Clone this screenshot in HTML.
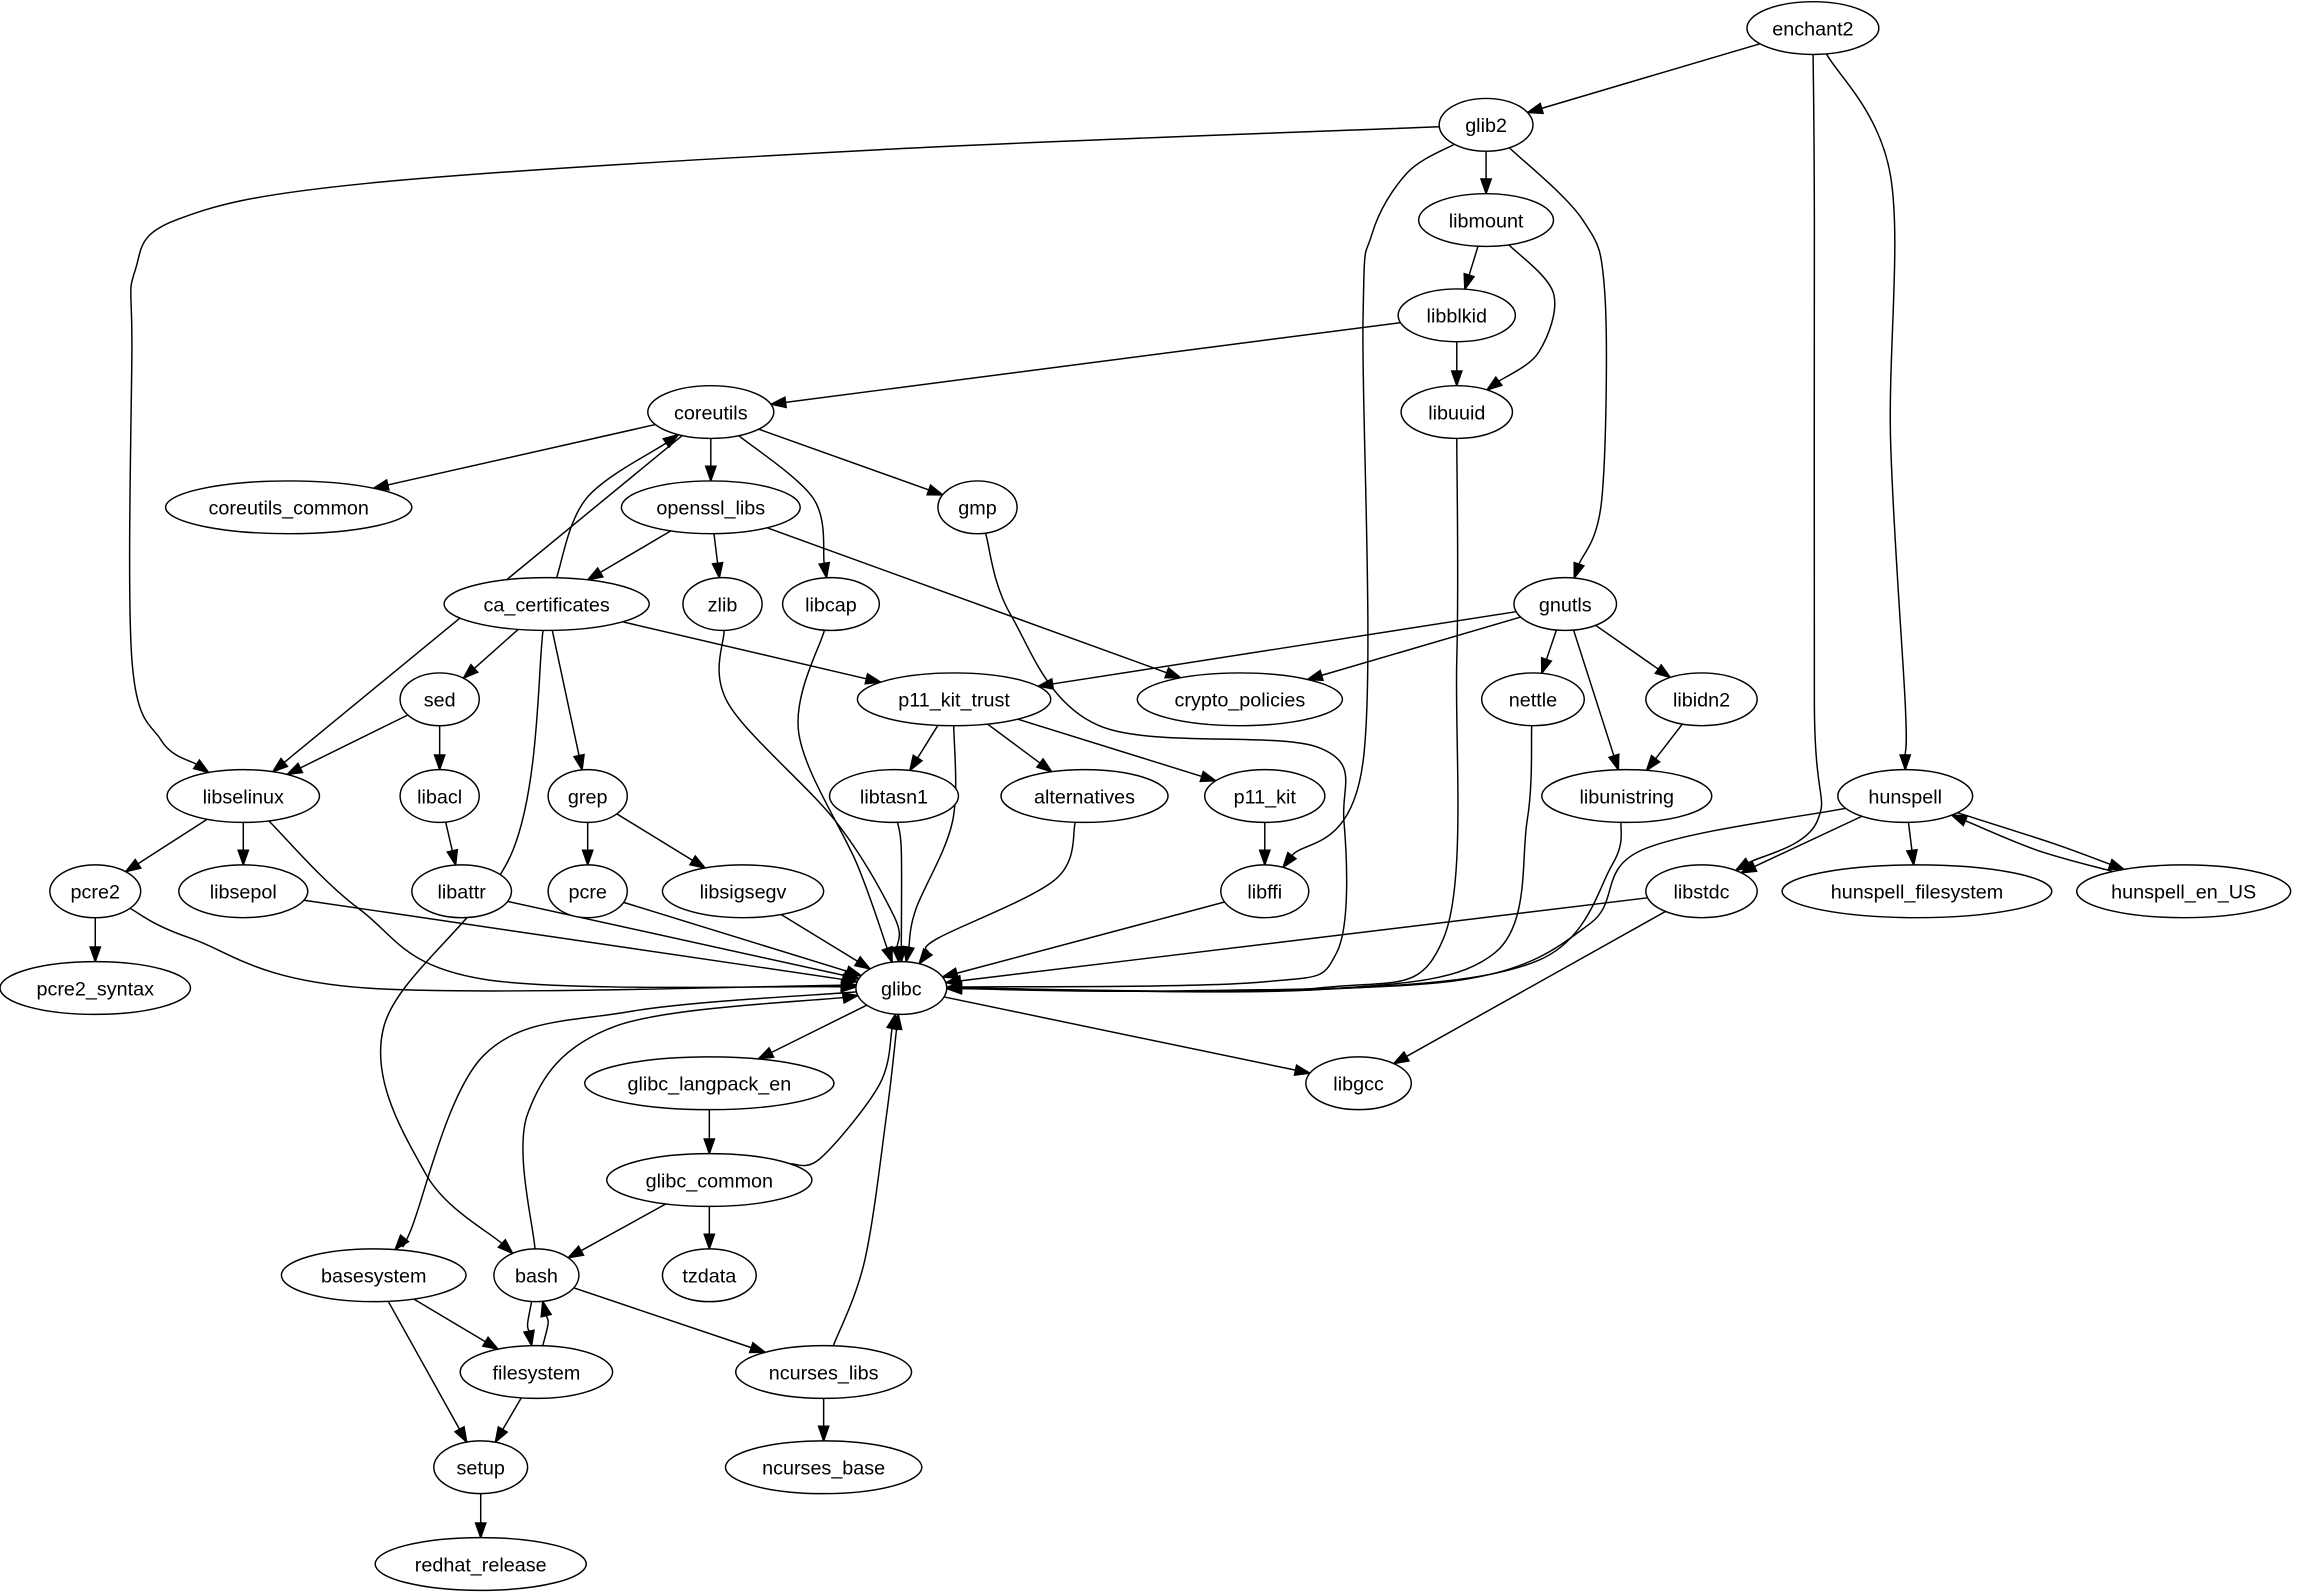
<!DOCTYPE html>
<html><head><meta charset="utf-8">
<style>
html,body{margin:0;padding:0;background:#fff;}
svg{display:block;}
text{font-family:"Liberation Sans",sans-serif;font-size:13.5px;fill:#000;}
</style></head>
<body>
<svg id="g" width="2298" height="1595" viewBox="0 0 1568 1088" xmlns="http://www.w3.org/2000/svg"></svg>
<script>
const N={
enchant2:[1237,19,45],glib2:[1014,85,32],libmount:[1014,150,46],libblkid:[994,215,40],libuuid:[994,281,38],
coreutils:[485,281,43],coreutils_common:[197,346,84],openssl_libs:[485,346,61],gmp:[667,346,27],
ca_certificates:[373,412,70],zlib:[493,412,27],libcap:[567,412,33],gnutls:[1068,412,35],
sed:[300,477,27],p11_kit_trust:[651,477,66],crypto_policies:[846,477,70],nettle:[1046,477,35],libidn2:[1161,477,38],
libselinux:[166,543,52],libacl:[300,543,27],grep:[401,543,27],libtasn1:[610,543,44],alternatives:[740,543,57],
p11_kit:[863,543,41],libunistring:[1110,543,58],hunspell:[1300,543,46],
pcre2:[65,608,31],libsepol:[166,608,44],libattr:[315,608,34],pcre:[401,608,27],libsigsegv:[507,608,55],
libffi:[863,608,30],libstdc:[1161,608,38],hunspell_filesystem:[1308,608,92],hunspell_en_US:[1490,608,73],
pcre2_syntax:[65,674,65],glibc:[615,674,31],glibc_langpack_en:[484,739,85],libgcc:[927,739,36],
glibc_common:[484,805,70],basesystem:[255,870,63],bash:[366,870,29],tzdata:[484,870,32],
filesystem:[366,936,52],ncurses_libs:[562,936,60],setup:[328,1001,32],ncurses_base:[562,1001,67],redhat_release:[328,1067,72]};
const RY=18;
const E=[
['enchant2','glib2'],['enchant2','libstdc',[[1238,150],[1238,480],[1240,560]]],['enchant2','hunspell',[[1290,120],[1290,300],[1300,480]]],
['glib2','libselinux',[[600,102],[250,125],[120,150],[92,185],[90,240],[90,450],[110,505]]],['glib2','libmount'],['glib2','gnutls',[[1080,150],[1095,200],[1093,340]]],
['glib2','libffi',[[960,118],[936,160],[930,220],[930,520]]],
['libmount','libblkid'],['libmount','libuuid',[[1060,200],[1050,240]]],
['libblkid','coreutils'],['libblkid','libuuid'],
['libuuid','glibc',[[994,450],[985,640],[900,674]]],
['coreutils','coreutils_common'],['coreutils','openssl_libs'],['coreutils','gmp'],['coreutils','libcap',[[555,340]]],['coreutils','libselinux'],
['openssl_libs','ca_certificates'],['openssl_libs','zlib'],['openssl_libs','crypto_policies'],
['ca_certificates','coreutils',[[400,340]]],['ca_certificates','sed'],['ca_certificates','grep'],['ca_certificates','p11_kit_trust'],
['ca_certificates','bash',[[350,580],[262,700],[290,800]]],
['gmp','glibc',[[690,420],[750,495],[900,510],[917,560],[912,650],[860,670]]],
['zlib','glibc',[[497,480],[570,560],[610,625]]],['libcap','glibc',[[545,500],[585,590]]],
['gnutls','p11_kit_trust'],['gnutls','crypto_policies'],['gnutls','nettle'],['gnutls','libunistring'],['gnutls','libidn2'],
['sed','libselinux'],['sed','libacl'],
['p11_kit_trust','libtasn1'],['p11_kit_trust','alternatives'],['p11_kit_trust','p11_kit'],['p11_kit_trust','glibc',[[650,560],[625,620]]],
['nettle','glibc',[[1042,560],[1020,650],[900,675]]],['libidn2','libunistring'],['libunistring','glibc',[[1100,590],[1050,655],[900,675]]],
['libselinux','pcre2'],['libselinux','libsepol'],['libselinux','glibc',[[245,620],[330,668]]],['libacl','libattr'],['grep','pcre'],['grep','libsigsegv'],
['libtasn1','glibc',[[615,580]]],['alternatives','glibc',[[720,600],[640,640]]],['p11_kit','libffi'],
['hunspell','glibc',[[1120,580],[1085,630],[1000,668],[800,676]]],['hunspell','libstdc'],['hunspell','hunspell_filesystem'],['hunspell','hunspell_en_US',[[1400,575]]],
['hunspell_en_US','hunspell',[[1390,580]]],
['pcre2','glibc',[[130,640],[250,674],[580,672]]],['pcre2','pcre2_syntax'],['libsepol','glibc'],['libattr','glibc'],['pcre','glibc'],['libsigsegv','glibc'],
['libffi','glibc'],['libstdc','glibc'],['libstdc','libgcc'],
['glibc','glibc_langpack_en'],['glibc','libgcc'],['glibc','basesystem',[[430,690],[330,720],[280,840]]],
['glibc_langpack_en','glibc_common'],['glibc_common','glibc',[[560,790],[600,740]]],['glibc_common','bash'],['glibc_common','tzdata'],
['bash','glibc',[[360,760],[420,700],[580,680]]],['bash','filesystem',[[360,903]]],['filesystem','bash',[[374,903]]],['bash','ncurses_libs'],
['basesystem','filesystem'],['basesystem','setup'],['filesystem','setup'],['ncurses_libs','glibc',[[590,860],[605,760]]],['ncurses_libs','ncurses_base'],['setup','redhat_release']];
const s=document.getElementById('g');const NS='http://www.w3.org/2000/svg';
function el(t,a,txt){const e=document.createElementNS(NS,t);for(const k in a)e.setAttribute(k,a[k]);if(txt)e.textContent=txt;s.appendChild(e);return e;}
function bd(n,px,py){const[cx,cy,rx]=N[n];let dx=px-cx,dy=py-cy;const t=1/Math.sqrt((dx/rx)**2+(dy/RY)**2);return[cx+dx*t,cy+dy*t];}
for(const[a,b,c]of E){
 const pts=c||[];
 const f=pts.length?pts[0]:N[b];const l=pts.length?pts[pts.length-1]:N[a];
 const p0=bd(a,f[0],f[1]);let p1=bd(b,l[0],l[1]);
 let dx=p1[0]-l[0],dy=p1[1]-l[1];let d=Math.hypot(dx,dy)||1;dx/=d;dy/=d;
 const L=10;const q=[p1[0]-dx*L,p1[1]-dy*L];
 let all=[p0,...pts,q];let dstr='M'+p0[0]+','+p0[1];
 if(all.length==2)dstr+=' L'+q[0]+','+q[1];
 else{
  for(let i=0;i<all.length-1;i++){const P0=all[i-1]||all[i],P1=all[i],P2=all[i+1],P3=all[i+2]||all[i+1];
   const c1=[P1[0]+(P2[0]-P0[0])/6,P1[1]+(P2[1]-P0[1])/6],c2=[P2[0]-(P3[0]-P1[0])/6,P2[1]-(P3[1]-P1[1])/6];
   dstr+=` C${c1[0]},${c1[1]} ${c2[0]},${c2[1]} ${P2[0]},${P2[1]}`;}
 }
 el('path',{d:dstr,fill:'none',stroke:'#000','stroke-width':1});
 const nx=-dy,ny=dx;
 el('polygon',{points:`${p1[0]},${p1[1]} ${q[0]+nx*3.5},${q[1]+ny*3.5} ${q[0]-nx*3.5},${q[1]-ny*3.5}`,fill:'#000',stroke:'#000'});
}
for(const n in N){const[cx,cy,rx]=N[n];
 el('ellipse',{cx,cy,rx,ry:RY,fill:'#fff',stroke:'#000','stroke-width':1});
 el('text',{x:cx,y:cy+5,'text-anchor':'middle'},n);}
</script>
</body></html>
